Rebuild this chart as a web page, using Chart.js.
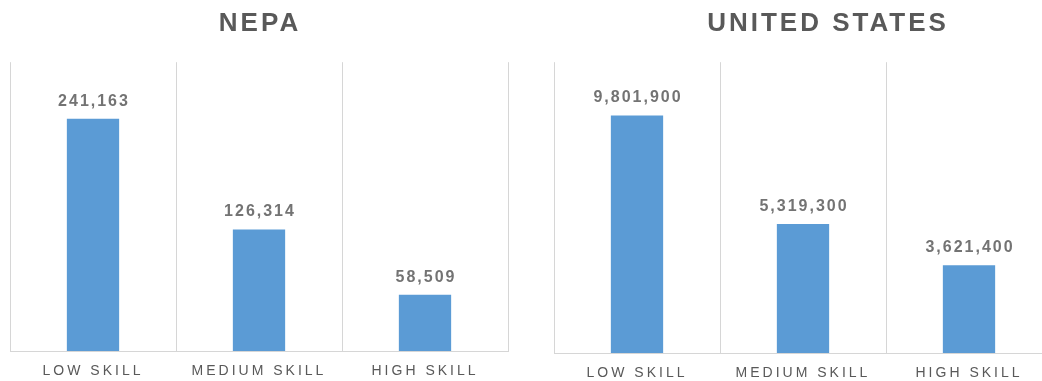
<!DOCTYPE html>
<html>
<head>
<meta charset="utf-8">
<script src="https://cdn.jsdelivr.net/npm/chart.js@4/dist/chart.umd.min.js"></script>
<style>
  html, body { margin: 0; padding: 0; background: #fff; overflow: hidden; }
  body { width: 1042px; height: 381px; position: relative; }
  .box { position: absolute; top: 0; height: 381px; }
  #left { left: 0; width: 520px; }
  #right { left: 530px; width: 596px; }
</style>
</head>
<body>
<div class="box" id="left"><canvas id="nepaChart"></canvas></div>
<div class="box" id="right"><canvas id="usChart"></canvas></div>
<script>
const categories = ['LOW SKILL', 'MEDIUM SKILL', 'HIGH SKILL'];
const nepaValues = [241163, 126314, 58509];
const usValues = [9801900, 5319300, 3621400];

const FONT = "'Liberation Sans', Arial, sans-serif";

// etiquetas encima de las barras + espaciado de letras
const barLabels = {
    id: 'barLabels',
    beforeDraw(chart) {
        chart.ctx.letterSpacing = '3px';
    },
    afterDatasetsDraw(chart) {
        const ctx = chart.ctx;
        const meta = chart.getDatasetMeta(0);
        const data = chart.data.datasets[0].data;
        ctx.save();
        ctx.letterSpacing = '2px';
        ctx.font = 'bold 16px ' + FONT;
        ctx.fillStyle = '#737373';
        ctx.textAlign = 'center';
        ctx.textBaseline = 'alphabetic';
        meta.data.forEach((bar, i) => {
            ctx.fillText(data[i].toLocaleString('en-US'), bar.x + 1, bar.y - 13);
        });
        ctx.restore();
    }
};

function makeChart(id, title, values, max, leftW, rightW, axisH) {
    const ctx = document.getElementById(id).getContext('2d');
    return new Chart(ctx, {
        type: 'bar',
        data: {
            labels: categories,
            datasets: [{
                data: values,
                backgroundColor: '#5b9bd5',
                categoryPercentage: 1,
                barPercentage: 0.315
            }]
        },
        options: {
            responsive: true,
            maintainAspectRatio: false,
            animation: false,
            layout: { padding: 0 },
            plugins: {
                legend: { display: false },
                tooltip: { enabled: false },
                title: {
                    display: true,
                    text: title,
                    color: '#595959',
                    font: { family: FONT, size: 26, weight: 'bold', lineHeight: 1.2 },
                    padding: { top: 8, bottom: 23 }
                }
            },
            scales: {
                x: {
                    grid: { display: true, offset: true, drawTicks: false, color: '#d6d6d6', lineWidth: 1 },
                    border: { display: true, color: '#d6d6d6', width: 1 },
                    ticks: {
                        color: '#595959',
                        font: { family: FONT, size: 14 },
                        padding: 12,
                        maxRotation: 0,
                        autoSkip: false
                    },
                    afterFit: s => { s.height = axisH; }
                },
                y: {
                    display: true,
                    min: 0,
                    max: max,
                    grid: { display: false },
                    border: { display: false },
                    ticks: { display: false },
                    afterFit: s => { s.width = leftW; }
                },
                yr: {
                    type: 'linear',
                    position: 'right',
                    display: true,
                    grid: { display: false },
                    border: { display: false },
                    ticks: { display: false },
                    afterFit: s => { s.width = rightW; }
                }
            }
        },
        plugins: [barLabels]
    });
}

makeChart('nepaChart', 'NEPA', nepaValues, 300000, 10, 12, 30);
makeChart('usChart', 'UNITED STATES', usValues, 12000000, 24, 74, 28);
</script>
</body>
</html>
